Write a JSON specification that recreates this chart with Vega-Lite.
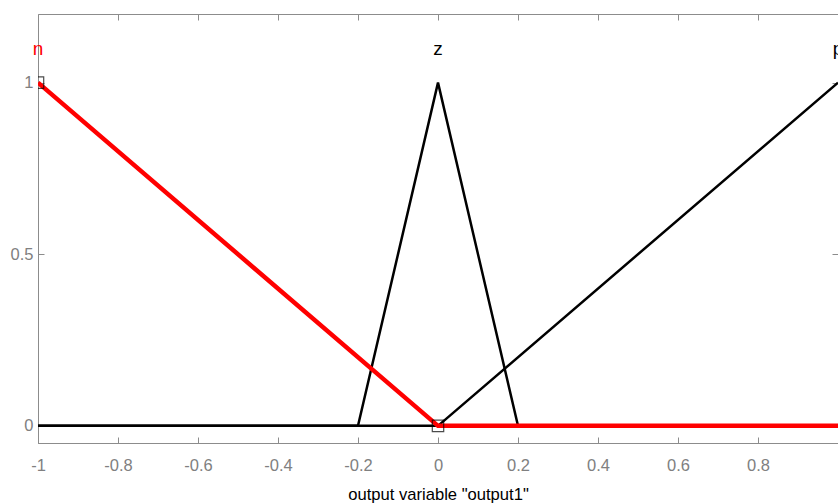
{
  "$schema": "https://vega.github.io/schema/vega-lite/v6.json",
  "width": 800,
  "height": 429,
  "autosize": {"type": "none"},
  "padding": {"left": 38, "top": 14, "right": 0, "bottom": 60},
  "background": "white",
  "config": {
    "view": {"stroke": "#8c8c8c", "strokeWidth": 1},
    "axis": {
      "grid": false,
      "domainColor": "#8c8c8c",
      "tickColor": "#8c8c8c",
      "tickSize": -6,
      "labelColor": "#808080",
      "labelFont": "Liberation Sans",
      "labelFontSize": 16.5,
      "titleFont": "Liberation Sans",
      "titleFontSize": 16.6,
      "titleFontWeight": "normal",
      "titleColor": "#000000"
    }
  },
  "datasets": {
    "curves": [
      {"mf": "z", "x": -1, "y": 0},
      {"mf": "z", "x": -0.2, "y": 0},
      {"mf": "z", "x": 0, "y": 1},
      {"mf": "z", "x": 0.2, "y": 0},
      {"mf": "z", "x": 1, "y": 0},
      {"mf": "p", "x": -1, "y": 0},
      {"mf": "p", "x": 0, "y": 0},
      {"mf": "p", "x": 1, "y": 1},
      {"mf": "n", "x": -1, "y": 1},
      {"mf": "n", "x": 0, "y": 0},
      {"mf": "n", "x": 1, "y": 0}
    ],
    "names": [
      {"mf": "n", "x": -1, "y": 1.08},
      {"mf": "z", "x": 0, "y": 1.08},
      {"mf": "p", "x": 1, "y": 1.08}
    ],
    "handles": [
      {"x": -1, "y": 1},
      {"x": 0, "y": 0}
    ]
  },
  "resolve": {"axis": {"x": "independent", "y": "independent"}},
  "layer": [
    {
      "data": {"name": "curves"},
      "transform": [{"filter": "datum.mf !== 'n'"}],
      "mark": {"type": "line", "color": "#000000", "strokeWidth": 2.5, "clip": true},
      "encoding": {
        "x": {
          "field": "x", "type": "quantitative",
          "scale": {"domain": [-1, 1], "nice": false, "zero": false},
          "axis": {
            "title": "output variable \"output1\"",
            "values": [-1, -0.8, -0.6, -0.4, -0.2, 0, 0.2, 0.4, 0.6, 0.8],
            "labelExpr": "replace(format(datum.value, '~g'), '−', '-')",
            "labelFlush": false,
            "labelPadding": 20,
            "titlePadding": 13
          }
        },
        "y": {
          "field": "y", "type": "quantitative",
          "scale": {"domain": [-0.05, 1.2], "nice": false, "zero": false},
          "axis": {
            "title": null,
            "values": [0, 0.5, 1],
            "labelExpr": "format(datum.value, '~g')",
            "labelPadding": 11,
            "labelFlush": false
          }
        },
        "detail": {"field": "mf"}
      }
    },
    {
      "data": {"name": "curves"},
      "transform": [{"filter": "datum.mf === 'n'"}],
      "mark": {"type": "line", "color": "#ff0000", "strokeWidth": 4.5, "clip": true},
      "encoding": {
        "x": {"field": "x", "type": "quantitative", "axis": null},
        "y": {"field": "y", "type": "quantitative", "axis": null}
      }
    },
    {
      "data": {"name": "handles"},
      "mark": {"type": "point", "shape": "square", "size": 130, "filled": false, "color": "#000000", "strokeWidth": 1.2, "clip": true},
      "encoding": {
        "x": {"field": "x", "type": "quantitative", "axis": null},
        "y": {"field": "y", "type": "quantitative", "axis": null}
      }
    },
    {
      "data": {"name": "names"},
      "mark": {"type": "text", "font": "Liberation Sans", "fontSize": 19, "baseline": "alphabetic", "align": "center"},
      "encoding": {
        "x": {
          "field": "x", "type": "quantitative",
          "axis": {"orient": "top", "title": null, "labels": false, "domain": false,
                   "values": [-0.8, -0.6, -0.4, -0.2, 0, 0.2, 0.4, 0.6, 0.8]}
        },
        "y": {
          "field": "y", "type": "quantitative",
          "axis": {"orient": "right", "title": null, "labels": false, "domain": false,
                   "values": [0, 0.5, 1]}
        },
        "text": {"field": "mf"},
        "color": {
          "field": "mf", "type": "nominal",
          "scale": {"domain": ["n", "z", "p"], "range": ["#ff0000", "#000000", "#000000"]},
          "legend": null
        }
      }
    }
  ]
}
